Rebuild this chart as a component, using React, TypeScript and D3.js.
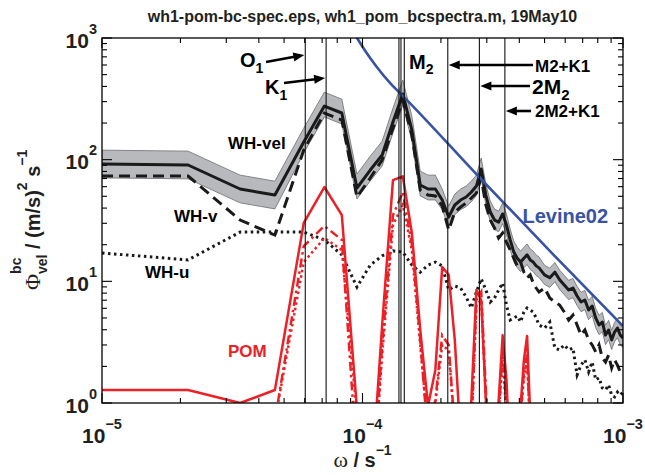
import React from "react";
import * as d3 from "d3";

// ---------------- DATA ----------------
const freq = [
  1.0e-5, 2.14e-5, 3.39e-5, 4.61e-5, 5.95e-5, 7.14e-5, 8.33e-5, 9.52e-5, 1.071e-4, 1.19e-4,
  1.309e-4, 1.428e-4, 1.547e-4, 1.666e-4, 1.785e-4, 1.904e-4, 2.023e-4, 2.142e-4, 2.261e-4, 2.38e-4,
  2.499e-4, 2.618e-4, 2.737e-4, 2.856e-4, 2.975e-4, 3.094e-4, 3.213e-4, 3.332e-4, 3.451e-4, 3.57e-4,
  3.689e-4, 3.808e-4, 3.927e-4, 4.046e-4, 4.165e-4, 4.284e-4, 4.403e-4, 4.522e-4, 4.641e-4, 4.76e-4,
  4.998e-4, 5.236e-4, 5.474e-4, 5.712e-4, 5.95e-4, 6.188e-4, 6.426e-4, 6.664e-4, 6.902e-4, 7.14e-4,
  7.378e-4, 7.616e-4, 7.854e-4, 8.092e-4, 8.33e-4, 8.568e-4, 8.806e-4, 9.044e-4, 9.282e-4, 9.52e-4,
  9.758e-4, 9.996e-4,
];

const whVel = [
  92.1, 90.4, 57.4, 51.2, 139.7, 276, 241.8, 58.5, 82.2, 109.2,
  203.9, 346.6, 175.3, 61.9, 57.4, 57.4, 46.6, 33.8, 42.4, 46.6,
  49.3, 54.2, 60.7, 83.8, 51.2, 37.1, 31.9, 30.7, 35.8, 29.0,
  21.9, 17.4, 15.5, 14.4, 15.5, 16.5, 15.0, 14.4, 13.4, 12.9,
  11.3, 10.7, 11.9, 10.3, 9.33, 8.49, 8.81, 7.58, 6.76, 7.02,
  5.81, 6.27, 5.0, 4.38, 4.63, 3.62, 3.98, 3.3, 3.83, 4.13,
  3.62, 3.42,
];

// confidence-interval factors (upper / lower) for WH-vel
const ciUp = [
  1.3, 1.3, 1.3, 1.3, 1.3, 1.3, 1.3, 1.3, 1.3, 1.3,
  1.3, 1.3, 1.3, 1.3, 1.3, 1.3, 1.23, 1.23, 1.23, 1.23,
  1.23, 1.23, 1.23, 1.23, 1.23, 1.23, 1.23, 1.23, 1.23, 1.23,
  1.23, 1.23, 1.23, 1.23, 1.23, 1.23, 1.23, 1.23, 1.23, 1.23,
  1.2, 1.2, 1.2, 1.2, 1.2, 1.2, 1.2, 1.2, 1.2, 1.2,
  1.2, 1.2, 1.2, 1.2, 1.2, 1.2, 1.2, 1.2, 1.2, 1.2,
  1.2, 1.2,
];
const ciDn = [
  1.3, 1.3, 1.3, 1.3, 1.23, 1.23, 1.23, 1.23, 1.23, 1.23,
  1.23, 1.23, 1.23, 1.23, 1.23, 1.23, 1.2, 1.2, 1.2, 1.2,
  1.2, 1.2, 1.2, 1.2, 1.2, 1.2, 1.2, 1.2, 1.2, 1.2,
  1.2, 1.2, 1.2, 1.2, 1.2, 1.2, 1.2, 1.2, 1.2, 1.2,
  1.2, 1.2, 1.2, 1.2, 1.2, 1.2, 1.2, 1.2, 1.2, 1.2,
  1.2, 1.2, 1.2, 1.2, 1.2, 1.2, 1.2, 1.2, 1.2, 1.2,
  1.2, 1.2,
];

const whV = [
  73.4, 73.4, 31.9, 24.0, 120.1, 241.8, 211.8, 49.3, 70.7, 99.4,
  182.1, 309.3, 159.5, 56.3, 51.2, 50.3, 41.6, 26.4, 37.1, 40.8,
  44.0, 48.4, 53.2, 70.7, 42.4, 31.9, 27.4, 22.7, 25.0, 21.0,
  18.1, 15.5, 13.4, 14.4, 11.9, 10.7, 11.3, 9.69, 8.81, 8.17,
  8.81, 7.29, 6.76, 6.39, 5.6, 4.81, 5.29, 4.38, 3.62, 3.98,
  3.3, 3.0, 2.63, 3.0, 2.34, 2.17, 2.48, 1.94, 2.26, 2.05,
  1.8, 1.94,
];

const whU = [
  17.1, 15.0, 25.4, 25.4, 25.4, 21.9, 16.5, 8.98, 13.6, 16.2,
  17.8, 17.4, 13.6, 11.9, 13.6, 14.4, 13.4, 8.49, 9.16, 8.81,
  7.43, 6.04, 8.17, 10.5, 8.49, 6.76, 7.29, 8.49, 9.69, 6.39,
  4.81, 5.0, 5.19, 4.63, 5.6, 6.04, 5.81, 5.6, 5.0, 4.38,
  4.13, 4.63, 2.83, 2.73, 3.0, 2.73, 2.83, 1.7, 2.05, 2.26,
  1.8, 2.17, 1.55, 1.61, 1.33, 1.28, 1.41, 1.16, 1.12, 1.23,
  1.16, 1.23,
];

const pomVel = [
  1.28, 1.28, 1.0, 1.28, 30.2, 59.6, 35, 0.9, 0.16, 4.4,
  68, 73, 25, 4.0, 0.95, 1.87, 13.1, 11.3, 3.3, 0.5,
  0.3, 1.06, 8.5, 7.0, 1.06, 0.3, 0.3, 1.05, 3.6, 1.55,
  0.3, 0.3, 0.3, 0.95, 2.26, 3.55, 0.8, 0.2, 0.2, 0.2,
  0.2, 0.2, 0.2, 0.2, 0.2, 0.2, 0.2, 0.2, 0.2, 0.2,
  0.2, 0.2, 0.2, 0.2, 0.2, 0.2, 0.2, 0.2, 0.2, 0.2,
  0.2, 0.2,
];

const pomV = [
  0.3, 0.3, 0.3, 0.72, 19.5, 28.5, 21.9, 0.33, 0.1, 3.0,
  35, 54, 20, 3.3, 0.5, 1.06, 3.6, 3.0, 0.6, 0.2,
  0.2, 0.6, 7.0, 8.2, 1.28, 0.3, 0.3, 0.8, 2.7, 0.9,
  0.3, 0.3, 0.3, 0.8, 1.8, 2.5, 0.6, 0.2, 0.2, 0.2,
  0.2, 0.2, 0.2, 0.2, 0.2, 0.2, 0.2, 0.2, 0.2, 0.2,
  0.2, 0.2, 0.2, 0.2, 0.2, 0.2, 0.2, 0.2, 0.2, 0.2,
  0.2, 0.2,
];

const pomU = [
  0.3, 0.3, 0.3, 0.72, 14.4, 22.7, 18.1, 0.8, 0.1, 2.5,
  29, 42.5, 18, 3.0, 0.6, 1.0, 3.0, 2.7, 0.6, 0.2,
  0.2, 0.6, 6.4, 7.0, 1.1, 0.3, 0.3, 0.8, 2.26, 0.8,
  0.3, 0.3, 0.3, 0.8, 1.6, 2.2, 0.6, 0.2, 0.2, 0.2,
  0.2, 0.2, 0.2, 0.2, 0.2, 0.2, 0.2, 0.2, 0.2, 0.2,
  0.2, 0.2, 0.2, 0.2, 0.2, 0.2, 0.2, 0.2, 0.2, 0.2,
  0.2, 0.2,
];

const levFreq = [9.11e-5, 9.53e-5, 1.031e-4, 1.127e-4, 1.275e-4, 1.456e-4, 2.826e-4, 5.246e-4, 1e-3];
const levVal = [1164, 1000, 767, 589, 427, 321, 70.7, 17.7, 4.29];

const tideNames = ["O1", "K1", "N2", "M2", "S2", "M2+K1", "2M2", "2M2+K1"];
const tideFreq = [6.03e-5, 7.25e-5, 1.38e-4, 1.405e-4, 1.447e-4, 2.125e-4, 2.81e-4, 3.52e-4];

const xTickExp = ["−5", "−4", "−3"];
const yTickExp = ["0", "1", "2", "3"];

// ---------------- STYLE ----------------
const W = 645;
const H = 475;
const M = { left: 102, right: 623, top: 38, bottom: 403 };
const FONT = "'Liberation Sans', Arial, Helvetica, sans-serif";
const SERIF = "'Liberation Serif', 'DejaVu Serif', serif";
const RED = "#ec2027";
const BLUE = "#3853a4";

function Arrow({ x1, y1, x2, y2 }: { x1: number; y1: number; x2: number; y2: number }) {
  const ang = Math.atan2(y2 - y1, x2 - x1);
  const L = 11;
  const hw = 4.5;
  const bx = x2 - L * Math.cos(ang);
  const by = y2 - L * Math.sin(ang);
  const px = -Math.sin(ang) * hw;
  const py = Math.cos(ang) * hw;
  return (
    <g>
      <line x1={x1} y1={y1} x2={bx + Math.cos(ang)} y2={by + Math.sin(ang)} stroke="#000" strokeWidth={2.6} />
      <polygon points={`${x2},${y2} ${bx + px},${by + py} ${bx - px},${by - py}`} fill="#000" />
    </g>
  );
}

export default function App() {
  const x = d3.scaleLog().domain([1e-5, 1e-3]).range([M.left, M.right]);
  const y = d3.scaleLog().domain([1, 1000]).range([M.bottom, M.top]);

  const lineGen = d3
    .line<number>()
    .x((_, i) => x(freq[i]))
    .y((d) => y(d));
  const bandGen = d3
    .area<number>()
    .x((_, i) => x(freq[i]))
    .y0((d, i) => y(d / ciDn[i]))
    .y1((d, i) => y(d * ciUp[i]));
  const levGen = d3
    .line<number>()
    .x((_, i) => x(levFreq[i]))
    .y((d) => y(d))
    .curve(d3.curveMonotoneX);

  const isMajor = (t: number) => Math.abs(Math.log10(t) - Math.round(Math.log10(t))) < 1e-6;
  const xt = x.ticks();
  const yt = y.ticks();
  const xMajors = xt.filter(isMajor);
  const yMajors = yt.filter(isMajor);

  const tx = (name: string) => x(tideFreq[tideNames.indexOf(name)]);

  return (
    <svg
      width={W}
      height={H}
      style={{ position: "absolute", left: 0, top: 0, display: "block", background: "#fff" }}
      fontFamily={FONT}
    >
      <defs>
        <clipPath id="plotclip">
          <rect x={M.left} y={M.top} width={M.right - M.left} height={M.bottom - M.top} />
        </clipPath>
      </defs>

      {/* title */}
      <text x={(M.left + M.right) / 2} y={22} textAnchor="middle" fontSize={16} fontWeight="bold" fill="#231f20">
        wh1-pom-bc-spec.eps, wh1_pom_bcspectra.m, 19May10
      </text>

      <g clipPath="url(#plotclip)">
        {/* CI band */}
        <path d={bandGen(whVel) || ""} fill="#b8b9bc" stroke="#6b6c6f" strokeWidth={0.8} />
        {/* WH-u dotted */}
        <path d={lineGen(whU) || ""} fill="none" stroke="#1a1a1a" strokeWidth={3} strokeDasharray="2.5,3.5" />
        {/* WH-v dashed */}
        <path d={lineGen(whV) || ""} fill="none" stroke="#1a1a1a" strokeWidth={3} strokeDasharray="11,6" />
        {/* WH-vel solid */}
        <path d={lineGen(whVel) || ""} fill="none" stroke="#1a1a1a" strokeWidth={3} strokeLinejoin="round" />
        {/* POM */}
        <path d={lineGen(pomU) || ""} fill="none" stroke={RED} strokeWidth={2.5} strokeDasharray="2.5,3" />
        <path d={lineGen(pomV) || ""} fill="none" stroke={RED} strokeWidth={2.5} strokeDasharray="9,4,2.5,4" />
        <path d={lineGen(pomVel) || ""} fill="none" stroke={RED} strokeWidth={2.5} strokeLinejoin="round" />
        {/* Levine02 */}
        <path d={levGen(levVal) || ""} fill="none" stroke={BLUE} strokeWidth={2.6} />
        {/* tidal frequency lines */}
        {tideFreq.map((f, i) => (
          <line key={i} x1={x(f)} x2={x(f)} y1={M.top} y2={M.bottom} stroke="#111" strokeWidth={1.1} />
        ))}
      </g>

      {/* axes box */}
      <rect
        x={M.left}
        y={M.top}
        width={M.right - M.left}
        height={M.bottom - M.top}
        fill="none"
        stroke="#000"
        strokeWidth={1.3}
      />
      {/* ticks */}
      {xt.map((t, i) => {
        const L = isMajor(t) ? 10 : 5;
        const xx = x(t);
        return (
          <g key={"xt" + i} stroke="#000" strokeWidth={1.1}>
            <line x1={xx} x2={xx} y1={M.bottom} y2={M.bottom - L} />
            <line x1={xx} x2={xx} y1={M.top} y2={M.top + L} />
          </g>
        );
      })}
      {yt.map((t, i) => {
        const L = isMajor(t) ? 10 : 5;
        const yy = y(t);
        return (
          <g key={"yt" + i} stroke="#000" strokeWidth={1.1}>
            <line x1={M.left} x2={M.left + L} y1={yy} y2={yy} />
            <line x1={M.right} x2={M.right - L} y1={yy} y2={yy} />
          </g>
        );
      })}

      {/* x tick labels */}
      {xMajors.map((t, i) => (
        <text key={"xl" + i} x={x(t)} y={443} textAnchor="middle" fontSize={21} fontWeight="bold" fill="#231f20">
          10
          <tspan fontSize={14.5} dy={-14}>
            {xTickExp[i]}
          </tspan>
        </text>
      ))}
      {/* y tick labels */}
      {yMajors.map((t, i) => (
        <text key={"yl" + i} x={97} y={y(t) + 9.5} textAnchor="end" fontSize={21} fontWeight="bold" fill="#231f20">
          10
          <tspan fontSize={14.5} dy={-14}>
            {yTickExp[i]}
          </tspan>
        </text>
      ))}

      {/* x axis label */}
      <text
        x={(M.left + M.right) / 2}
        y={467}
        textAnchor="middle"
        fontSize={20}
        fontWeight="bold"
        fill="#231f20"
        style={{ whiteSpace: "pre" }}
      >
        <tspan fontFamily={SERIF} fontWeight="normal" fontSize={22}>
          ω
        </tspan>
        <tspan> / s</tspan>
        <tspan fontSize={14} dy={-12}>
          −1
        </tspan>
      </text>

      {/* y axis label */}
      <text
        transform="translate(40,217) rotate(-90)"
        x={-73}
        y={0}
        textAnchor="start"
        fontSize={20}
        fontWeight="bold"
        fill="#231f20"
        style={{ whiteSpace: "pre" }}
      >
        <tspan fontFamily={SERIF} fontWeight="normal" fontSize={22}>
          Φ
        </tspan>
        <tspan fontSize={14} dy={-19}>
          bc
        </tspan>
        <tspan fontSize={14} dx={-16.5} dy={26}>
          vel
        </tspan>
        <tspan dy={-7}> / (m/s)</tspan>
        <tspan fontSize={14} dy={-13}>
          2
        </tspan>
        <tspan dy={13}> s</tspan>
        <tspan fontSize={14} dy={-13}>
          −1
        </tspan>
      </text>

      {/* tidal annotations */}
      <g fontWeight="bold" fill="#000">
        <text x={240} y={67} fontSize={20}>
          O<tspan fontSize={14} dy={6}>1</tspan>
        </text>
        <Arrow x1={266} y1={62} x2={tx("O1") - 1} y2={55} />
        <text x={265} y={94} fontSize={20}>
          K<tspan fontSize={14} dy={6}>1</tspan>
        </text>
        <Arrow x1={284} y1={83} x2={tx("K1") - 1} y2={78} />
        <text x={409} y={69} fontSize={20}>
          M<tspan fontSize={14} dy={5}>2</tspan>
        </text>
        <text x={535} y={71.5} fontSize={17}>
          M2+K1
        </text>
        <Arrow x1={533} y1={65} x2={tx("M2+K1") + 1} y2={65} />
        <text x={532} y={94} fontSize={21}>
          2M<tspan fontSize={15} dy={6}>2</tspan>
        </text>
        <Arrow x1={530} y1={86} x2={tx("2M2") + 1} y2={86} />
        <text x={535} y={117} fontSize={17}>
          2M2+K1
        </text>
        <Arrow x1={531} y1={111} x2={tx("2M2+K1") + 1} y2={111} />
      </g>

      {/* series labels */}
      <g fontWeight="bold" fontSize={17}>
        <text x={228} y={149} fill="#000">
          WH-vel
        </text>
        <text x={174} y={221.5} fill="#000">
          WH-v
        </text>
        <text x={145} y={278} fill="#000">
          WH-u
        </text>
        <text x={228} y={357} fill={RED}>
          POM
        </text>
        <text x={522.5} y={222.5} fill={BLUE} fontSize={20}>
          Levine02
        </text>
      </g>
    </svg>
  );
}
